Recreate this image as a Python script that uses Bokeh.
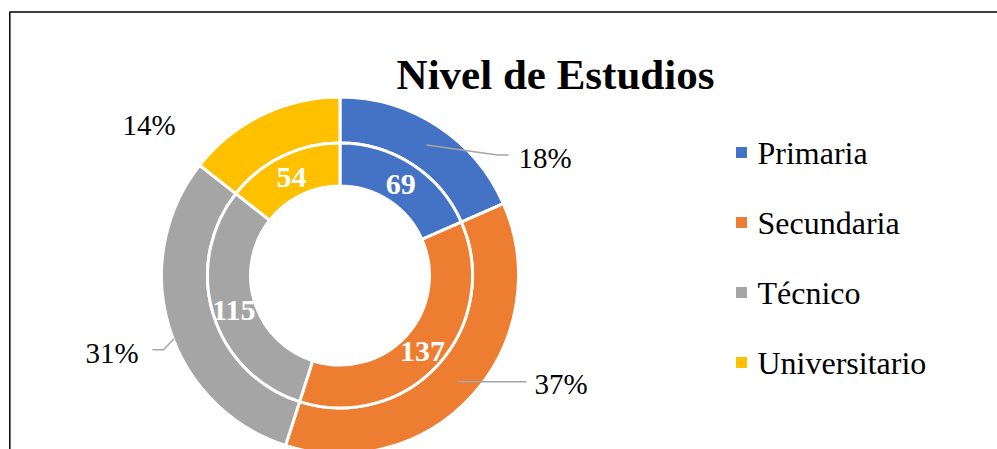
import numpy as np
from bokeh.plotting import figure
from bokeh.models import Range1d
from bokeh.core.properties import value
from bokeh.embed import file_html
from bokeh.resources import INLINE

# ---- data ----
categories = ["Primaria", "Secundaria", "Técnico", "Universitario"]
counts = [69, 137, 115, 54]
colors = ["#4472C4", "#ED7D31", "#A5A5A5", "#FFC000"]
title_text = "Nivel de Estudios"

# ---- layout ----
W, H = 997, 449
FONT = value("Liberation Serif")
BASE_FIX = 0.3  # em correction for alphabetic baseline rendering


def S(sx, sy):
    """screen pixel -> data coords"""
    return sx, H - sy


p = figure(width=W, height=H, x_range=Range1d(0, W), y_range=Range1d(0, H),
           output_backend="svg", toolbar_location=None, min_border=0,
           x_axis_type=None, y_axis_type=None)
p.grid.visible = False
p.outline_line_color = None
p.background_fill_color = "white"

# border (chart area frame, partially cut)
bx, by = S(9.3, 11.5)
p.line([bx, bx, W + 20], [-20, by, by], line_color="black", line_width=1.5)

cx, cy = S(339.5, 275)

vals = np.array(counts, dtype=float)
frac = vals / vals.sum()
cum = np.cumsum(frac)
start = np.pi / 2 - 2 * np.pi * (cum - frac)
end = np.pi / 2 - 2 * np.pi * cum
mid = np.pi / 2 - 2 * np.pi * (cum - frac / 2)

src = dict(x=[cx] * 4, y=[cy] * 4, start=list(start), end=list(end), color=colors)

# outer ring
p.annular_wedge(x="x", y="y", inner_radius=132.5, outer_radius=178.5,
                start_angle="start", end_angle="end", direction="clock",
                fill_color="color", line_color="white", line_width=3, source=src)
# inner ring
p.annular_wedge(x="x", y="y", inner_radius=89.5, outer_radius=132.5,
                start_angle="start", end_angle="end", direction="clock",
                fill_color="color", line_color="white", line_width=3, source=src)

# inner value labels
r_lab = 111
lx = [cx + r_lab * np.cos(a) for a in mid]
ly = [cy + r_lab * np.sin(a) - 2 for a in mid]
p.text(x=lx, y=ly, text=[str(c) for c in counts], text_font=FONT,
       text_font_style="bold", text_font_size="30px", text_color="white",
       text_align="center", text_baseline="middle")

# outer percentage labels (Excel best-fit positions)
pct = [f"{round(f * 100):.0f}%" for f in frac]
pct_pos = [S(518, 166), S(534, 392), S(85, 361), S(122, 133)]
p.text(x=[q[0] for q in pct_pos], y=[q[1] + BASE_FIX * 29 for q in pct_pos], text=pct,
       text_font=FONT, text_font_size="29px", text_color="black",
       text_align="left", text_baseline="alphabetic")

# leader lines
leaders = [
    [(426, 144.5), (497, 154.5), (508, 154.5)],
    [(457, 381.3), (526, 381.3)],
    [(152, 349.3), (163, 349.3), (173.5, 338.3)],
]
for ln in leaders:
    pts = [S(a, b) for a, b in ln]
    p.line([q[0] for q in pts], [q[1] for q in pts], line_color="#A6A6A6", line_width=1.5)

# title
tx, ty = S(555, 87)
p.text(x=[tx], y=[ty + BASE_FIX * 43], text=[title_text], text_font=FONT, text_font_style="bold",
       text_font_size="43px", text_color="black", text_align="center",
       text_baseline="alphabetic")

# legend
sq_x = [S(741, 0)[0]] * 4
sq_y = [S(0, 152 + 70 * i)[1] for i in range(4)]
p.rect(x=sq_x, y=sq_y, width=11, height=11, fill_color=colors, line_color=None)
lt_x = [S(757, 0)[0]] * 4
lt_y = [S(0, 162 + 70 * i)[1] + BASE_FIX * 32 for i in range(4)]
p.text(x=lt_x, y=lt_y, text=categories, text_font=FONT, text_font_size="32px",
       text_color="black", text_align="left", text_baseline="alphabetic")

open("out.html", "w").write(file_html(p, INLINE))
